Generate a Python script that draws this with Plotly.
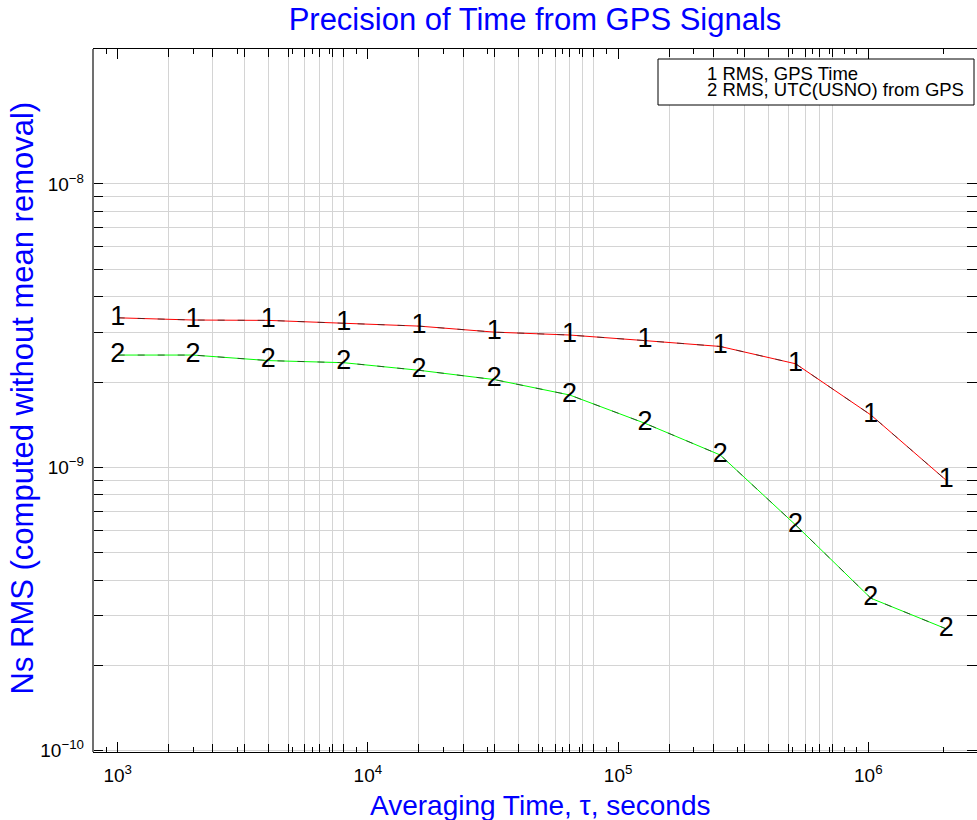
import numpy as np
import plotly.graph_objects as go

# ---- data ----
tau = [1000, 2000, 4000, 8000, 16000, 32000, 64000, 128000, 256000, 512000, 1024000, 2048000]
rms_gps_time = [3.37e-9, 3.31e-9, 3.30e-9, 3.22e-9, 3.15e-9, 3.00e-9, 2.93e-9, 2.80e-9,
                2.67e-9, 2.32e-9, 1.53e-9, 0.90e-9]
rms_utc_usno = [2.49e-9, 2.49e-9, 2.38e-9, 2.34e-9, 2.20e-9, 2.04e-9, 1.80e-9, 1.43e-9,
                1.105e-9, 0.626e-9, 0.345e-9, 0.269e-9]
series_labels = ["1", "2"]
legend_lines = ["1 RMS, GPS Time", "2 RMS, UTC(USNO) from GPS"]

x_major = [1e3, 1e4, 1e5, 1e6]
x_major_text = ["10<sup>3</sup>", "10<sup>4</sup>", "10<sup>5</sup>", "10<sup>6</sup>"]
y_major = [1e-10, 1e-9, 1e-8]
y_major_text = ["10<sup>−10</sup>", "10<sup>−9</sup>", "10<sup>−8</sup>"]

# grid positions along x (multiples of 0.8 per decade as in the original)
x_grid = ([m * 1e3 for m in [1.6, 2.4, 3.2, 4.0, 4.8, 5.6, 6.4, 7.2, 8.0]] +
          [m * 1e4 for m in [1.6, 2.4, 3.2, 4.0, 4.8, 5.6, 6.4, 7.2, 8.0]] +
          [m * 1e5 for m in [1.6, 2.4, 3.2, 4.0, 4.8, 5.6, 6.4, 7.2]])
x_minor_std = [m * 10 ** e for e in [2, 3, 4, 5, 6] for m in range(2, 10)]
y_minor = [m * 10 ** e for e in [-10, -9] for m in range(2, 10)]

# ---- layout geometry ----
W, H = 977, 820
L, R, T, B = 93, 0, 49, 68
xr = [2.9013, 2.9013 + 884 / 250.2]
yr = [-10.005, -7.5235]

GRID = "#d4d4d4"
BLUE = "#0000ff"
FONT = "Liberation Sans, Arial, sans-serif"

fig = go.Figure()

for vals, col, lab in [(rms_gps_time, "#ff0000", series_labels[0]),
                       (rms_utc_usno, "#00ff00", series_labels[1])]:
    fig.add_trace(go.Scatter(x=tau, y=vals, mode="lines", line=dict(color=col, width=1),
                             hoverinfo="x+y", showlegend=False))
    fig.add_trace(go.Scatter(x=tau, y=vals, mode="lines+text",
                             line=dict(color="rgba(40,40,40,0.75)", width=1, dash="7px,13px"),
                             text=[lab] * len(tau), textposition="middle center",
                             textfont=dict(family=FONT, size=27, color="black"),
                             hoverinfo="skip", showlegend=False))
# invisible helper trace to activate the overlay axis that carries the standard minor ticks
fig.add_trace(go.Scatter(x=tau, y=rms_gps_time, xaxis="x2", mode="markers",
                         marker=dict(opacity=0), hoverinfo="skip", showlegend=False))

fig.update_layout(
    width=W, height=H,
    margin=dict(l=L, r=R, t=T, b=B),
    paper_bgcolor="white", plot_bgcolor="white",
    font=dict(family=FONT, color="black"),
    title=dict(text="Precision of Time from GPS Signals",
               font=dict(family=FONT, size=31, color=BLUE),
               x=0.5, xref="paper", xanchor="center",
               y=1 - 19 / H, yref="container", yanchor="middle"),
    xaxis=dict(type="log", range=xr, tickmode="array", tickvals=x_major, ticktext=x_major_text,
               ticks="inside", ticklen=10, tickcolor="black", tickwidth=1,
               showgrid=False, zeroline=False,
               showline=True, linecolor="black", linewidth=1, mirror="allticks",
               tickfont=dict(family=FONT, size=19, color="black"),
               ticklabelstandoff=6,
               minor=dict(tickmode="array", tickvals=x_grid, ticks="inside", ticklen=8,
                          tickcolor="black", showgrid=True, gridcolor=GRID, gridwidth=1)),
    xaxis2=dict(type="log", range=xr, overlaying="x", side="bottom",
                tickmode="array", tickvals=x_minor_std, ticks="inside", ticklen=5,
                tickcolor="black", showticklabels=False, showgrid=False, zeroline=False,
                showline=False, mirror="allticks"),
    yaxis=dict(type="log", range=yr, tickmode="array", tickvals=y_major, ticktext=y_major_text,
               ticks="inside", ticklen=10, tickcolor="black", tickwidth=1,
               showgrid=True, gridcolor=GRID, zeroline=False,
               showline=False, mirror="allticks",
               tickfont=dict(family=FONT, size=19, color="black"),
               ticklabelstandoff=8,
               minor=dict(tickmode="array", tickvals=y_minor, ticks="inside", ticklen=8,
                          tickcolor="black", showgrid=True, gridcolor=GRID, gridwidth=1)),
)

# left axis line (grey, as in the original)
fig.add_shape(type="line", xref="paper", yref="paper", x0=0, x1=0, y0=0, y1=1,
              line=dict(color="#707070", width=2), layer="above")

# axis titles
fig.add_annotation(text="Averaging Time, τ, seconds", xref="paper", yref="paper",
                   x=0.5, y=0, xanchor="center", yanchor="middle", xshift=5, yshift=-53,
                   showarrow=False, font=dict(family=FONT, size=28, color=BLUE))
fig.add_annotation(text="Ns RMS (computed without mean removal)", xref="paper", yref="paper",
                   x=0, y=0.5, xanchor="center", yanchor="middle", xshift=-71, yshift=2,
                   textangle=-90, showarrow=False, font=dict(family=FONT, size=31, color=BLUE))

# legend box
pw, ph = W - L - R, H - T - B
def px_x(px):
    return (px - L) / pw
def px_y(py):
    return (H - B - py) / ph

fig.add_shape(type="rect", xref="paper", yref="paper",
              x0=px_x(658), x1=px_x(974), y0=px_y(105), y1=px_y(59),
              line=dict(color="black", width=1), fillcolor="white", layer="above")
for i, txt in enumerate(legend_lines):
    fig.add_annotation(text=txt, xref="paper", yref="paper",
                       x=px_x(705), y=px_y(73 + 17 * i), xanchor="left", yanchor="middle",
                       showarrow=False, font=dict(family=FONT, size=18.5, color="black"))

fig.write_html("out.html", config={"displayModeBar": False},
               post_script="document.body.style.margin='0px';document.body.style.overflow='hidden';")
